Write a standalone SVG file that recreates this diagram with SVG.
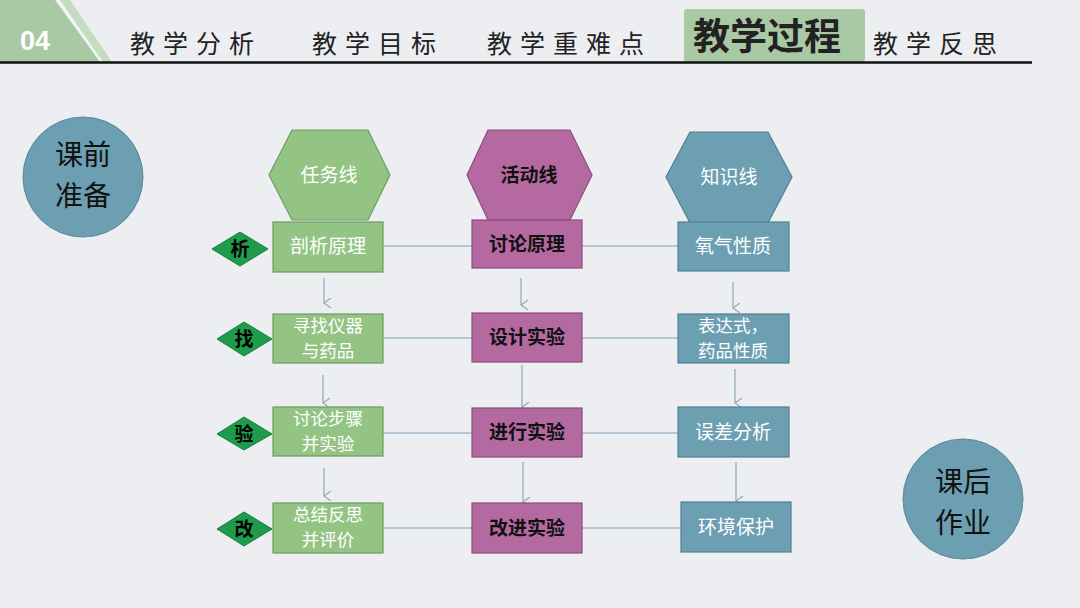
<svg xmlns="http://www.w3.org/2000/svg" width="1080" height="608" viewBox="0 0 1080 608">
<defs>
<style>
.hdr{font-family:"Noto Sans CJK SC",sans-serif;font-size:25px;fill:#222;letter-spacing:8px}
.g{fill:#93c484;stroke:#6f9c62;stroke-width:1.2}
.p{fill:#b46aa0;stroke:#8b4c7b;stroke-width:1.2}
.b{fill:#6c9fb2;stroke:#4f8092;stroke-width:1.2}
.tw{font-family:"Noto Sans CJK SC",sans-serif;font-size:19px;fill:#fff;text-anchor:middle}
.tw2{font-family:"Noto Sans CJK SC",sans-serif;font-size:17.5px;fill:#fff;text-anchor:middle}
.tk{font-family:"Noto Sans CJK SC",sans-serif;font-size:19px;font-weight:bold;fill:#111;text-anchor:middle}
.dm{fill:#1f9b4c;stroke:#17803d;stroke-width:1}
.dt{font-family:"Noto Sans CJK SC",sans-serif;font-size:19px;font-weight:bold;fill:#000;text-anchor:middle}
.ct{font-family:"Noto Sans CJK SC",sans-serif;font-size:28px;fill:#111;text-anchor:middle}
.ln{stroke:#9fbccb;stroke-width:1.5;fill:none}
.ar{stroke:#8fa9b8;stroke-width:1.2;fill:none;marker-end:url(#ah)}
</style>
<marker id="ah" markerWidth="10" markerHeight="10" refX="5" refY="9" orient="auto" markerUnits="userSpaceOnUse" viewBox="0 0 10 10">
<path d="M0,2 L5,9 L10,2" fill="none" stroke="#8fa9b8" stroke-width="1.2"/>
</marker>
</defs>
<rect width="1080" height="608" fill="#eceef1"/>
<g id="header">
<polygon points="0,0 55,0 100,62 0,62" fill="#a9c8a4"/>
<polygon points="60,0 70,0 112,62 102,62" fill="#c4dcc0"/>
<line x1="58" y1="0" x2="102" y2="62" stroke="#f4f6f4" stroke-width="2"/>
<text x="20" y="50" font-family="Liberation Sans,Arial,sans-serif" font-size="27" font-weight="bold" fill="#fff">04</text>
<text class="hdr" x="130" y="53">教学分析</text>
<text class="hdr" x="312" y="53">教学目标</text>
<text class="hdr" x="487" y="53">教学重难点</text>
<rect x="684" y="9" width="181" height="53" rx="3" fill="#a9c8a4"/>
<text x="693" y="50" font-family="Noto Sans CJK SC,sans-serif" font-size="37" font-weight="bold" fill="#222">教学过程</text>
<text class="hdr" x="873" y="53">教学反思</text>
<line x1="0" y1="62.5" x2="1032" y2="62.5" stroke="#111" stroke-width="2.5"/>
</g>
<g id="connectors">
<line class="ln" x1="383" y1="246" x2="472" y2="246"/>
<line class="ln" x1="582" y1="246" x2="678" y2="246"/>
<line class="ln" x1="383" y1="338" x2="472" y2="338"/>
<line class="ln" x1="582" y1="338" x2="678" y2="338"/>
<line class="ln" x1="383" y1="433" x2="472" y2="433"/>
<line class="ln" x1="582" y1="433" x2="678" y2="433"/>
<line class="ln" x1="383" y1="528" x2="472" y2="528"/>
<line class="ln" x1="582" y1="528" x2="681" y2="528"/>
<line class="ar" x1="324" y1="278" x2="324" y2="303"/>
<line class="ar" x1="323" y1="375" x2="323" y2="403"/>
<line class="ar" x1="324" y1="468" x2="324" y2="496"/>
<line class="ar" x1="521" y1="278" x2="521" y2="305"/>
<line class="ar" x1="522" y1="365" x2="522" y2="407"/>
<line class="ar" x1="523" y1="462" x2="523" y2="502"/>
<line class="ar" x1="733" y1="282" x2="733" y2="308"/>
<line class="ar" x1="735" y1="369" x2="735" y2="403"/>
<line class="ar" x1="736" y1="462" x2="736" y2="501"/>
</g>
<g id="pre">
<circle cx="83" cy="177" r="60" fill="#6c9fb2" stroke="#5a8799" stroke-width="1"/>
<text class="ct" x="83" y="165">课前</text>
<text class="ct" x="83" y="206">准备</text>
</g>
<g id="post">
<circle cx="963" cy="499" r="60" fill="#6c9fb2" stroke="#5a8799" stroke-width="1"/>
<text class="ct" x="963" y="492">课后</text>
<text class="ct" x="963" y="533">作业</text>
</g>
<g id="hex-task">
<polygon class="g" points="292,130 368,130 390,175 368,220 292,220 269,175"/>
<text class="tw" x="329" y="182">任务线</text>
</g>
<g id="hex-activity">
<polygon class="p" points="488,130 570,130 592,175 570,220 488,220 467,175"/>
<text class="tk" x="529" y="182">活动线</text>
</g>
<g id="hex-knowledge">
<polygon class="b" points="690,132 768,132 792,177 768,223 690,223 666,177"/>
<text class="tw" x="729" y="184">知识线</text>
</g>
<g id="d1"><polygon class="dm" points="212,249 240,232 268,249 240,266"/><text class="dt" x="240" y="256">析</text></g>
<g id="d2"><polygon class="dm" points="217,339 244,322 272,339 244,356"/><text class="dt" x="244" y="346">找</text></g>
<g id="d3"><polygon class="dm" points="217,434 244,417 272,434 244,450"/><text class="dt" x="244" y="441">验</text></g>
<g id="d4"><polygon class="dm" points="217,529 244,512 272,529 244,546"/><text class="dt" x="244" y="536">改</text></g>
<g id="t1"><rect class="g" x="273" y="222" width="110" height="50"/><text class="tw" x="328" y="253">剖析原理</text></g>
<g id="t2"><rect class="g" x="273" y="314" width="110" height="49"/><text class="tw2" x="328" y="332">寻找仪器</text><text class="tw2" x="328" y="357">与药品</text></g>
<g id="t3"><rect class="g" x="273" y="407" width="110" height="49"/><text class="tw2" x="328" y="425">讨论步骤</text><text class="tw2" x="328" y="450">并实验</text></g>
<g id="t4"><rect class="g" x="273" y="503" width="110" height="50"/><text class="tw2" x="328" y="521">总结反思</text><text class="tw2" x="328" y="546">并评价</text></g>
<g id="a1"><rect class="p" x="472" y="220" width="110" height="48"/><text class="tk" x="527" y="251">讨论原理</text></g>
<g id="a2"><rect class="p" x="472" y="313" width="110" height="49"/><text class="tk" x="527" y="344">设计实验</text></g>
<g id="a3"><rect class="p" x="472" y="408" width="110" height="49"/><text class="tk" x="527" y="439">进行实验</text></g>
<g id="a4"><rect class="p" x="472" y="503" width="110" height="50"/><text class="tk" x="527" y="535">改进实验</text></g>
<g id="k1"><rect class="b" x="678" y="222" width="111" height="49"/><text class="tw" x="733" y="253">氧气性质</text></g>
<g id="k2"><rect class="b" x="678" y="314" width="111" height="49"/><text class="tw2" x="733" y="332">表达式，</text><text class="tw2" x="733" y="357">药品性质</text></g>
<g id="k3"><rect class="b" x="678" y="407" width="111" height="50"/><text class="tw" x="733" y="439">误差分析</text></g>
<g id="k4"><rect class="b" x="681" y="502" width="110" height="50"/><text class="tw" x="736" y="534">环境保护</text></g>
</svg>
